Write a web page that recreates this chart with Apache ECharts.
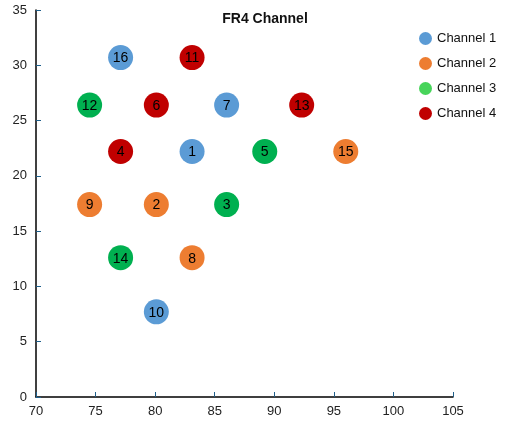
<!DOCTYPE html>
<html>
<head>
<meta charset="utf-8">
<script src="https://cdn.jsdelivr.net/npm/echarts@6/dist/echarts.min.js"></script>
<style>
  html, body { margin: 0; padding: 0; background: #fff; }
  #chart { width: 529px; height: 428px; }
</style>
</head>
<body>
<div id="chart"></div>
<script>
// [x, y, id] per channel
const channel1 = [[77.1, 30.7, 16], [86, 26.4, 7], [83.1, 22.2, 1], [80.1, 7.7, 10]];
const channel2 = [[74.5, 17.4, 9], [80.1, 17.4, 2], [96, 22.2, 15], [83.1, 12.6, 8]];
const channel3 = [[74.5, 26.4, 12], [89.2, 22.2, 5], [86, 17.4, 3], [77.1, 12.6, 14]];
const channel4 = [[83.1, 30.7, 11], [80.1, 26.4, 6], [77.1, 22.2, 4], [92.3, 26.4, 13]];

const seriesNames = ["Channel 1", "Channel 2", "Channel 3", "Channel 4"];
const pointColors = ["#5b9bd5", "#ed7d31", "#00b050", "#c00000"];
const legendColors = ["#5b9bd5", "#ed7d31", "#47d45a", "#c00000"];

const font = "Liberation Sans, Arial, sans-serif";
const tickColor = "#1f5f8b";

const chart = echarts.init(document.getElementById("chart"), null, { renderer: "canvas" });

function scatter(name, data, color) {
  return {
    name: name,
    type: "scatter",
    data: data,
    symbolSize: 25,
    itemStyle: { color: color, opacity: 1 },
    label: {
      show: true,
      position: "inside",
      offset: [0, 1],
      formatter: (p) => String(p.value[2]),
      color: "#000",
      fontSize: 14,
      fontFamily: font,
    },
  };
}

chart.setOption({
  animation: false,
  title: {
    text: "FR4 Channel",
    left: 260,
    textAlign: "center",
    top: 7,
    textStyle: { fontSize: 14, fontWeight: "bold", color: "#111", fontFamily: font },
  },
  legend: {
    orient: "vertical",
    left: 414,
    top: 27,
    icon: "circle",
    itemWidth: 13,
    itemHeight: 13,
    itemGap: 12,
    textStyle: { fontSize: 13, color: "#111", fontFamily: font },
    data: seriesNames.map((n, i) => ({ name: n, itemStyle: { color: legendColors[i] } })),
  },
  grid: { left: 36, top: 10, width: 417, height: 387 },
  xAxis: {
    type: "value",
    min: 70,
    max: 105,
    interval: 5,
    axisLine: { lineStyle: { color: "#000", width: 1.5 } },
    axisTick: { show: true, inside: true, length: 5, lineStyle: { color: tickColor } },
    axisLabel: { color: "#222", fontSize: 13, margin: 8, fontFamily: font },
    splitLine: { show: false },
  },
  yAxis: {
    type: "value",
    min: 0,
    max: 35,
    interval: 5,
    axisLine: { show: true, lineStyle: { color: "#000", width: 1.5 } },
    axisTick: { show: true, inside: true, length: 5, lineStyle: { color: tickColor } },
    axisLabel: { color: "#222", fontSize: 13, margin: 9, fontFamily: font },
    splitLine: { show: false },
  },
  series: [
    scatter(seriesNames[0], channel1, pointColors[0]),
    scatter(seriesNames[1], channel2, pointColors[1]),
    scatter(seriesNames[2], channel3, pointColors[2]),
    scatter(seriesNames[3], channel4, pointColors[3]),
  ],
});
</script>
</body>
</html>
